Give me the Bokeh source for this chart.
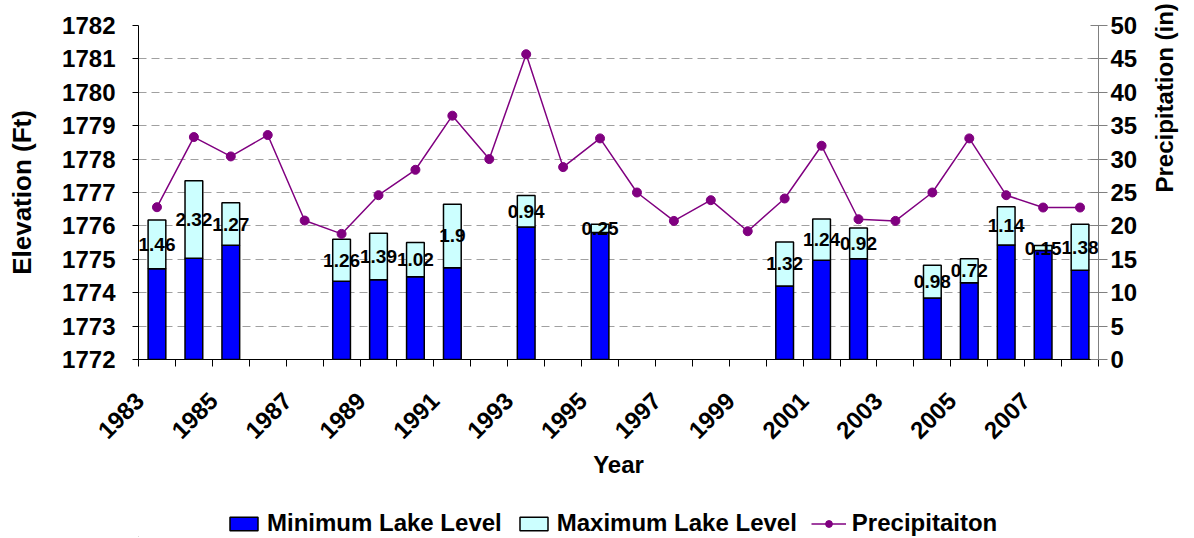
import math
from bokeh.plotting import figure
from bokeh.layouts import column
from bokeh.models import (Range1d, LinearAxis, FixedTicker, ColumnDataSource,
                          Legend, LegendItem)
from bokeh.embed import file_html
from bokeh.resources import INLINE
from bokeh.core.properties import value

# ---------------- data ----------------
years = list(range(1983, 2009))
min_level = [1774.72, 1775.03, 1775.42, None, None, 1774.34, 1774.39, 1774.48,
             1774.75, None, 1775.97, None, 1775.80, None, None, None, None,
             1774.20, 1774.97, 1775.02, None, 1773.84, 1774.30, 1775.43,
             1775.26, 1774.67]
level_range = [1.46, 2.32, 1.27, None, None, 1.26, 1.39, 1.02, 1.9, None, 0.94,
               None, 0.25, None, None, None, None, 1.32, 1.24, 0.92, None, 0.98,
               0.72, 1.14, 0.15, 1.38]
precip = [22.8, 33.3, 30.4, 33.6, 20.8, 18.8, 24.6, 28.4, 36.5, 30.0, 45.7, 28.8,
          33.1, 25.0, 20.75, 23.85, 19.2, 24.1, 32.0, 21.0, 20.75, 25.0, 33.1,
          24.6, 22.75, 22.75]
tick_years = [1983, 1985, 1987, 1989, 1991, 1993, 1995, 1997, 1999, 2001, 2003,
              2005, 2007]
elev_ticks = list(range(1772, 1783))
precip_ticks = list(range(0, 51, 5))
series_names = ["Minimum Lake Level", "Maximum Lake Level", "Precipitaiton"]

FONT = "Liberation Sans"
BASE = 1772
MIN_COLOR = "#0000FF"
MAX_COLOR = "#CCFFFF"
LINE_COLOR = "#800080"

# ---------------- sources ----------------
bx, bmin, bmax, bmid, btxt = [], [], [], [], []
for i, (lo, d) in enumerate(zip(min_level, level_range)):
    if lo is None:
        continue
    bx.append(i + 0.5)
    bmin.append(lo)
    bmax.append(lo + d)
    bmid.append(lo + d / 2.0)
    btxt.append("{:g}".format(d))
bars = ColumnDataSource(dict(x=bx, lo=bmin, hi=bmax, mid=bmid, txt=btxt,
                             base=[BASE] * len(bx)))
line_src = ColumnDataSource(dict(x=[i + 0.5 for i in range(len(years))], y=precip))

# ---------------- main figure ----------------
p = figure(width=1194, height=503, x_range=Range1d(0, len(years)),
           y_range=Range1d(elev_ticks[0], elev_ticks[-1]),
           output_backend="svg", toolbar_location=None,
           min_border_left=138, min_border_right=96, min_border_top=25,
           min_border_bottom=144)
p.outline_line_color = None
p.background_fill_color = "white"
p.border_fill_color = "white"
p.extra_y_ranges = {"precip": Range1d(precip_ticks[0], precip_ticks[-1])}

# grid
p.xgrid.visible = False
p.ygrid.ticker = FixedTicker(ticks=elev_ticks)
p.ygrid.grid_line_color = "#A0A0A0"
p.ygrid.grid_line_dash = "8 5"
p.ygrid.grid_line_width = 1

# bars
p.vbar(x="x", bottom="base", top="lo", width=0.48, source=bars,
       fill_color=MIN_COLOR, line_color="black", line_width=1.5)
p.vbar(x="x", bottom="lo", top="hi", width=0.48, source=bars,
       fill_color=MAX_COLOR, line_color="black", line_width=1.5)
p.text(x="x", y="mid", text="txt", source=bars, text_align="center",
       text_baseline="middle", text_font=value(FONT), text_font_size="19px",
       text_font_style="bold", text_color="black")

# precipitation line
p.line(x="x", y="y", source=line_src, line_color=LINE_COLOR,
       line_width=1.5, y_range_name="precip")
p.scatter(x="x", y="y", source=line_src, size=9, fill_color=LINE_COLOR,
          line_color=LINE_COLOR, y_range_name="precip")

# left axis
ya = p.yaxis[0]
ya.ticker = FixedTicker(ticks=elev_ticks)
ya.axis_label = "Elevation (Ft)"
ya.axis_label_text_font = FONT
ya.axis_label_text_font_size = "26px"
ya.axis_label_text_font_style = "bold"
ya.axis_label_text_color = "black"
ya.axis_label_standoff = 22
ya.major_label_text_font = FONT
ya.major_label_text_font_size = "24px"
ya.major_label_text_font_style = "bold"
ya.major_label_text_color = "black"
ya.major_label_standoff = 17
ya.major_tick_in = 0
ya.major_tick_out = 6
ya.minor_tick_line_color = None
ya.axis_line_color = "black"
ya.major_tick_line_color = "black"

# right axis
ra = LinearAxis(y_range_name="precip", ticker=FixedTicker(ticks=precip_ticks))
ra.axis_label = "Precipitation (in)"
ra.axis_label_text_font = FONT
ra.axis_label_text_font_size = "24px"
ra.axis_label_text_font_style = "bold"
ra.axis_label_text_color = "black"
ra.axis_label_standoff = 24
try:
    ra.axis_label_orientation = math.pi / 2
except Exception:
    pass
ra.major_label_text_font = FONT
ra.major_label_text_font_size = "24px"
ra.major_label_text_font_style = "bold"
ra.major_label_text_color = "black"
ra.major_label_standoff = 3
ra.major_tick_in = 8
ra.major_tick_out = 9
ra.minor_tick_line_color = None
ra.axis_line_color = "#808080"
ra.major_tick_line_color = "#808080"
p.add_layout(ra, "right")

# bottom axis (labels every other year, tick marks at category boundaries)
xa = p.xaxis[0]
label_pos = [years.index(y) + 0.03125 for y in tick_years]
xa.ticker = FixedTicker(ticks=label_pos,
                        minor_ticks=list(range(0, len(years) + 1)))
xa.major_label_overrides = {pos: str(y) for pos, y in zip(label_pos, tick_years)}
xa.major_label_orientation = math.pi / 4
xa.major_label_text_font = FONT
xa.major_label_text_font_size = "24px"
xa.major_label_text_font_style = "bold"
xa.major_label_text_color = "black"
xa.major_label_standoff = 30
xa.major_tick_line_color = None
xa.major_tick_in = 0
xa.major_tick_out = 0
xa.minor_tick_in = 0
xa.minor_tick_out = 7
xa.minor_tick_line_color = "black"
xa.axis_line_color = "black"
xa.axis_label = "Year"
xa.axis_label_text_font = FONT
xa.axis_label_text_font_size = "24px"
xa.axis_label_text_font_style = "bold"
xa.axis_label_text_color = "black"
xa.axis_label_standoff = 2

# ---------------- legend strip ----------------
lg = figure(width=1194, height=34, x_range=Range1d(0, 1), y_range=Range1d(0, 1),
            output_backend="svg", toolbar_location=None,
            x_axis_location=None, y_axis_location=None,
            min_border_left=138, min_border_right=96, min_border_top=0,
            min_border_bottom=0)
lg.outline_line_color = None
lg.xgrid.visible = False
lg.ygrid.visible = False
dummy = ColumnDataSource(dict(x=[-5.0], y=[-5.0], t=[-4.0], b=[-6.0]))
l_min = lg.vbar(x="x", bottom="b", top="t", width=0.1, source=dummy,
                fill_color=MIN_COLOR, line_color="black", line_width=1.5)
l_max = lg.vbar(x="x", bottom="b", top="t", width=0.1, source=dummy,
                fill_color=MAX_COLOR, line_color="black", line_width=1.5)
l_line = lg.line(x="x", y="y", source=dummy, line_color=LINE_COLOR, line_width=1.5)
l_dot = lg.scatter(x="x", y="y", source=dummy, size=9, fill_color=LINE_COLOR,
                   line_color=LINE_COLOR)
legend = Legend(items=[
    LegendItem(label=series_names[0], renderers=[l_min]),
    LegendItem(label=series_names[1], renderers=[l_max]),
    LegendItem(label=series_names[2], renderers=[l_line, l_dot]),
], orientation="horizontal", location=(88, 0))
legend.label_text_font = FONT
legend.label_text_font_size = "24px"
legend.label_text_font_style = "bold"
legend.label_text_color = "black"
legend.glyph_width = 35
legend.glyph_height = 17
legend.label_standoff = 6
legend.spacing = 14
legend.padding = 0
legend.margin = 0
legend.border_line_color = None
legend.background_fill_alpha = 0
lg.add_layout(legend, "center")

layout = column(p, lg, spacing=0)
open("out.html", "w").write(file_html(layout, INLINE))
